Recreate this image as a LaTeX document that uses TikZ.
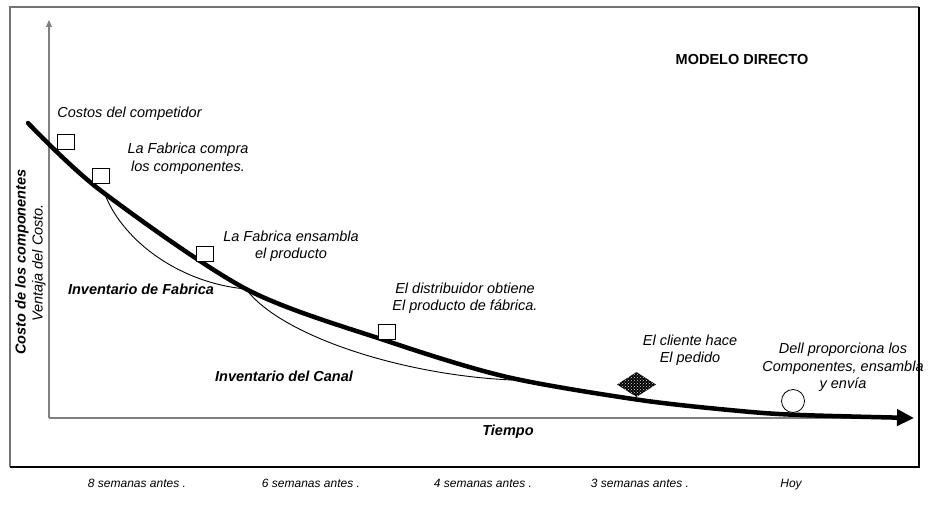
\documentclass[tikz,border=0pt]{standalone}
\usepackage{fontspec}
\setmainfont{Liberation Sans}
\usetikzlibrary{arrows.meta,shapes.geometric,patterns}
\begin{document}
\begin{tikzpicture}[x=1pt,y=-1pt,
  lbl/.style={font=\fontsize{14.5}{17.5}\selectfont\itshape, align=center, inner sep=0pt},
  blbl/.style={font=\fontsize{14.5}{17.5}\selectfont\bfseries\itshape, inner sep=0pt},
  wk/.style={font=\fontsize{12}{14}\selectfont\itshape, inner sep=0pt, anchor=base},
  sq/.style={draw=black, fill=white, minimum width=17pt, minimum height=15pt, inner sep=0pt, line width=0.8pt},
  axisline/.style={draw=black!50, line width=1.2pt},
  thin/.style={draw=black, line width=0.9pt}]
\useasboundingbox (0,0) rectangle (928,508);
\fill[white] (0,0) rectangle (928,508);
% frame
\draw[black!55, line width=1.2pt] (10,467) -- (10,7) -- (919,7);
\draw[black, line width=1.2pt] (919,7) -- (919,467) -- (10,467);
% axes
\coordinate (O) at (49,418);
\coordinate (Ytop) at (49,20);
\coordinate (Xend) at (905,418);
\draw[axisline, -{Triangle[length=7pt,width=6pt]}] (O) -- (Ytop);
\draw[axisline] (O) -- (Xend);
% thin inventory curves
\coordinate (f1) at (106,197);
\coordinate (f2) at (246,289);
\coordinate (f3) at (512,380);
\draw[thin] (f1) .. controls (125,242) and (180,283) .. (f2);
\draw[thin] (f2) .. controls (280,335) and (400,375) .. (f3);
% thick cost curve
\draw[line width=4.5pt, line cap=round, -{Triangle[length=17pt,width=16pt]}]
  plot[smooth, tension=0.5] coordinates {(28,123) (100,190) (246,289) (387,341) (507,377) (640,400) (740,411) (800,415) (914,418)};
% markers
\node[sq] (s1) at (65.5,141.5) {};
\node[sq] (s2) at (100.5,176) {};
\node[sq] (s3) at (204.5,253.5) {};
\node[sq] (s4) at (386.5,332) {};
\node[diamond, fill=black, aspect=1.55, minimum width=39pt, minimum height=25pt, inner sep=0pt,
  postaction={pattern=crosshatch dots, pattern color=white!85!black}] (dm) at (636.5,384.5) {};
\node[circle, draw=black, fill=white, line width=0.8pt, minimum size=23pt, inner sep=0pt] (ci) at (793,401) {};
% labels
\node[lbl] (t0) at (129.5,114) {Costos del competidor};
\node[lbl] (t1) at (188,159) {La Fabrica compra\\los componentes.};
\node[lbl] (t2) at (291,246) {La Fabrica ensambla\\el producto};
\node[lbl] (t3) at (465,298) {El distribuidor obtiene\\El producto de fábrica.};
\node[lbl] (t4) at (690,350) {El cliente hace\\El pedido};
\node[lbl] (t5) at (843,367.5) {Dell proporciona los\\Componentes, ensambla\\y envía};
\node[font=\fontsize{14.5}{17.5}\selectfont\bfseries, inner sep=0pt] (md) at (742,60) {MODELO DIRECTO};
\node[blbl] (if) at (141,289) {Inventario de Fabrica};
\node[blbl] (ic) at (284,376) {Inventario del Canal};
\node[blbl] (ti) at (508,432) {Tiempo};
\node[blbl, rotate=90] (yl) at (22,262) {Costo de los componentes};
\node[lbl, rotate=90] (yl2) at (39,263) {Ventaja del Costo.};
% weeks
\node[wk] (w8) at (137,487) {8 semanas antes .};
\node[wk] (w6) at (311,487) {6 semanas antes .};
\node[wk] (w4) at (483,487) {4 semanas antes .};
\node[wk] (w3) at (640,487) {3 semanas antes .};
\node[wk] (wh) at (791,487) {Hoy};
\end{tikzpicture}
\end{document}
